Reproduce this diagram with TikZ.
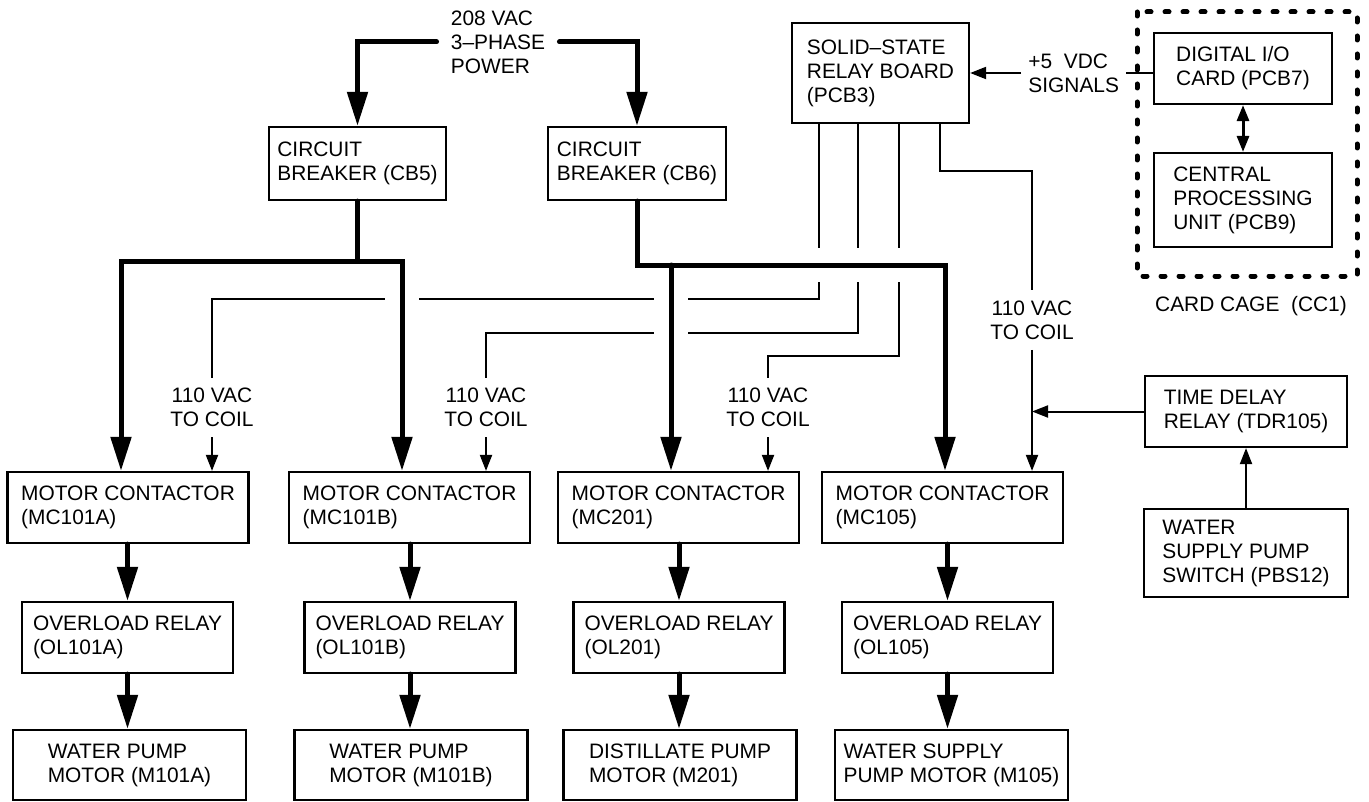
\documentclass[tikz,border=0pt]{standalone}
\usepackage{fontspec}
\setmainfont{Liberation Sans}
\usetikzlibrary{arrows.meta,backgrounds}

\begin{document}
\begin{tikzpicture}[x=.5pt,y=-.5pt,font=\fontsize{10.45}{12}\selectfont,
  box/.style={draw,line width=1.1pt,align=left,inner sep=0pt},
  mcbox/.style={box,minimum width=120.5pt,minimum height=35.5pt},
  olbox/.style={box,minimum width=105.5pt,minimum height=35.5pt},
  motbox/.style={box,minimum width=116.5pt,minimum height=35pt},
  lbl/.style={align=center,inner xsep=1pt,inner ysep=5pt},
  feed/.style={line width=2.5pt,line cap=round,-{Triangle[length=17pt,width=10pt]}},
  gap/.style={draw=white,line width=17pt},
  coil/.style={line width=1pt},
  tip/.style={-{Triangle[length=8pt,width=6pt]}}]
\useasboundingbox (0,0) rectangle (1369,802);

\node[align=left,inner xsep=7pt] (power) at (498,42) {208 VAC\\3–PHASE\\POWER};
\node[box,minimum width=88.5pt,minimum height=36.5pt] (cb5) at (357.5,163.5) {CIRCUIT\\BREAKER (CB5)};
\node[box,minimum width=89pt,minimum height=36.5pt] (cb6) at (637,163.5) {CIRCUIT\\BREAKER (CB6)};
\node[box,minimum width=88.5pt,minimum height=50pt] (ssr) at (880.5,73) {SOLID–STATE\\RELAY BOARD\\(PCB3)};
\node[align=left,anchor=west,inner xsep=3.5pt] (sig) at (1021,73) {+5~~VDC\\SIGNALS};
\node[box,minimum width=89pt,minimum height=35.5pt] (dio) at (1243,68.5) {DIGITAL I/O\\CARD (PCB7)};
\node[box,minimum width=89pt,minimum height=47pt] (cpu) at (1243,200) {CENTRAL\\PROCESSING\\UNIT (PCB9)};
\node (cc1) at (1251,306) {CARD CAGE~~(CC1)};
\node[box,minimum width=101pt,minimum height=35.5pt] (tdr) at (1246,411.5) {TIME DELAY\\RELAY (TDR105)};
\node[box,minimum width=102pt,minimum height=44pt] (pbs) at (1246,553) {WATER\\SUPPLY PUMP\\SWITCH (PBS12)};

% coil labels
\node[lbl] (coil1) at (212,407.5) {110 VAC\\TO COIL};
\node[lbl] (coil2) at (486,407.5) {110 VAC\\TO COIL};
\node[lbl] (coil3) at (768,407.5) {110 VAC\\TO COIL};
\node[lbl] (coil4) at (1032,320) {110 VAC\\TO COIL};

% motor contactors, overloads, motors
\node[mcbox] (mc101a) at (128,507.5) {MOTOR CONTACTOR\\(MC101A)};
\node[mcbox] (mc101b) at (409.5,507.5) {MOTOR CONTACTOR\\(MC101B)};
\node[mcbox] (mc201) at (678.5,507.5) {MOTOR CONTACTOR\\(MC201)};
\node[mcbox] (mc105) at (942.5,507.5) {MOTOR CONTACTOR\\(MC105)};
\node[olbox] (ol101a) at (127.5,637.5) {OVERLOAD RELAY\\(OL101A)};
\node[olbox] (ol101b) at (410,637.5) {OVERLOAD RELAY\\(OL101B)};
\node[olbox] (ol201) at (679,637.5) {OVERLOAD RELAY\\(OL201)};
\node[olbox] (ol105) at (947.5,637.5) {OVERLOAD RELAY\\(OL105)};
\node[motbox] (m101a) at (129.5,765) {WATER PUMP\\MOTOR (M101A)};
\node[motbox] (m101b) at (411,765) {WATER PUMP\\MOTOR (M101B)};
\node[motbox] (m201) at (680,765) {DISTILLATE PUMP\\MOTOR (M201)};
\node[motbox] (m105) at (951.5,765) {WATER SUPPLY\\PUMP MOTOR (M105)};

\draw[line width=2.5pt,line cap=round,dash pattern=on 2pt off 7pt] (1137,12) rectangle (1357,276);

\begin{pgfonlayer}{background}
\coordinate (out1) at ([xshift=-30.75pt]ssr.south);
\coordinate (out2) at ([xshift=-11.25pt]ssr.south);
\coordinate (out3) at ([xshift=9.25pt]ssr.south);
\coordinate (out4) at ([xshift=29.75pt]ssr.south);
\coordinate (lvl1) at (0,299);
\coordinate (lvl2) at (0,333);
\coordinate (lvl3) at (0,356);
\coordinate (lvl4) at (0,171);
\coordinate (bus5) at (357.5,261);
\coordinate (bus6) at (637,265);

% relay board outputs
\draw[coil] (out1) |- (coil1.north |- lvl1) -- (coil1.north);
\draw[coil,tip] (coil1.south) -- (coil1.south |- mc101a.north);
\draw[coil] (out2) |- (coil2.north |- lvl2) -- (coil2.north);
\draw[coil,tip] (coil2.south) -- (coil2.south |- mc101b.north);
\draw[coil] (out3) |- (coil3.north |- lvl3) -- (coil3.north);
\draw[coil,tip] (coil3.south) -- (coil3.south |- mc201.north);
\draw[coil] (out4) |- (coil4.north |- lvl4) -- (coil4.north);
\draw[coil,tip] (coil4.south) -- (coil4.south |- mc105.north);
\draw[coil,tip] (tdr.west) -- (tdr.west -| coil4.south);
\draw[coil,tip] (pbs.north) -- (tdr.south);
\draw[coil,tip] (sig.west) -- (sig.west -| ssr.east);
\draw[coil] (sig.east -| dio.west) -- (sig.east);
\draw[line width=1.5pt,{Triangle[length=8pt,width=6pt]}-{Triangle[length=8pt,width=6pt]}] (dio.south) -- (cpu.north);

% breaks where the coil wires cross the power feeders
\draw[gap] (cb5.south) -- (bus5) -| ([xshift=-3.5pt]mc101a.north) (bus5) -| ([xshift=-3.75pt]mc101b.north);
\draw[gap] (cb6.south) -- (bus6) -| ([xshift=1.25pt]mc105.north) ([xshift=-3.75pt]mc201.north |- bus6) -- ([xshift=-3.75pt]mc201.north);

% 3-phase power
\draw[feed] (power.west) -| (cb5.north);
\draw[feed] (power.east) -| (cb6.north);
\draw[feed] (cb5.south) -- (bus5) -| ([xshift=-3.5pt]mc101a.north);
\draw[feed] (bus5) -| ([xshift=-3.75pt]mc101b.north);
\draw[feed] (cb6.south) -- (bus6) -| ([xshift=1.25pt]mc105.north);
\draw[feed] ([xshift=-3.75pt]mc201.north |- bus6) -- ([xshift=-3.75pt]mc201.north);
\draw[feed] (ol101a.north |- mc101a.south) -- (ol101a.north);
\draw[feed] (ol101b.north |- mc101b.south) -- (ol101b.north);
\draw[feed] (ol201.north |- mc201.south) -- (ol201.north);
\draw[feed] (ol105.north |- mc105.south) -- (ol105.north);
\draw[feed] (ol101a.south) -- (ol101a.south |- m101a.north);
\draw[feed] (ol101b.south) -- (ol101b.south |- m101b.north);
\draw[feed] (ol201.south) -- (ol201.south |- m201.north);
\draw[feed] (ol105.south) -- (ol105.south |- m105.north);
\end{pgfonlayer}
\end{tikzpicture}
\end{document}
